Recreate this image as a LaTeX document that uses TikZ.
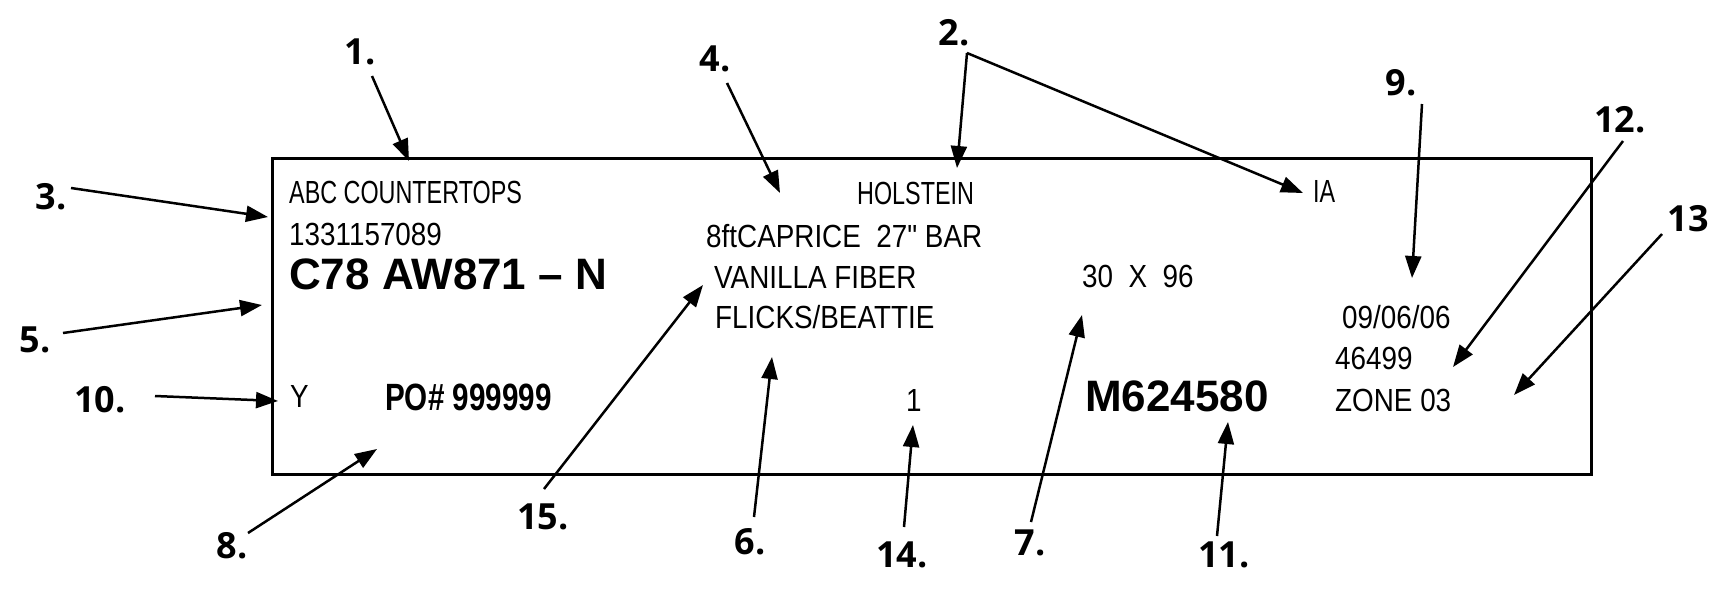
\documentclass[tikz,border=0pt]{standalone}
\usepackage{fontspec}
\setmainfont{Liberation Sans}
\newfontfamily\fieldfont[FakeStretch=0.87]{Liberation Sans}
\newfontfamily\narrowfont[FakeStretch=0.73]{Liberation Sans}
\newfontfamily\pofont[FakeStretch=0.78]{Liberation Sans}
\newfontfamily\calloutfont{Open Sans}
\usepackage{tikz}
\usetikzlibrary{positioning, arrows.meta}

\begin{document}
\begin{tikzpicture}[
        x=1pt, y=-1pt,
        field/.style={
            anchor=base west,
            inner sep=0pt,
            font=\fieldfont\fontsize{32}{36}\selectfont
        },
        narrowfield/.style={
            field,
            font=\narrowfont\fontsize{32}{36}\selectfont
        },
        boldfield/.style={
            field,
            font=\bfseries\fontsize{44}{48}\selectfont
        },
        callout/.style={
            inner sep=0pt,
            font=\calloutfont\bfseries\fontsize{36}{40}\selectfont
        },
        pointer/.style={
            -{Triangle[length=22pt, width=16pt]},
            line width=2.5pt,
            line join=miter
        }
    ]
    \useasboundingbox (0,0) rectangle (1730,592);

    % Ticket outline
    \node[draw, line width=3pt, anchor=north west, inner sep=0pt,
          minimum width=1319pt, minimum height=316pt] (ticket) at (271,157) {};

    % Ticket fields
    \node[narrowfield] (customer) at (289,203) {ABC COUNTERTOPS};
    \node[field] (phone) at (289,245) {1331157089};
    \node[boldfield] (colour) at (289,289) {C78 AW871 – N};
    \node[field] (flag) at (290,407) {Y};
    \node[field, font=\pofont\bfseries\fontsize{38}{42}\selectfont] (po) at (385,410) {PO\# 999999};
    \node[narrowfield] (city) at (857,204) {HOLSTEIN};
    \node[field] (model) at (706,247) {8ftCAPRICE\ \ 27" BAR};
    \node[field] (finish) at (714,288) {VANILLA FIBER};
    \node[field] (names) at (715,328) {FLICKS/BEATTIE};
    \node[field] (size) at (1082,287) {30\ \ X\ \ 96};
    \node[field] (qty) at (906,411) {1};
    \node[boldfield] (order) at (1085,411) {M624580};
    \node[narrowfield] (state) at (1313,202) {IA};
    \node[field] (date) at (1342,328) {09/06/06};
    \node[field] (zip) at (1335,369) {46499};
    \node[field] (zone) at (1335,411) {ZONE 03};

    % Callout numbers
    \node[callout] (c1) at (360,52) {1.};
    \node[callout] (c2) at (954,33) {2.};
    \node[callout] (c3) at (51,197) {3.};
    \node[callout] (c4) at (715,59) {4.};
    \node[callout] (c5) at (35,340) {5.};
    \node[callout] (c6) at (750,542) {6.};
    \node[callout] (c7) at (1030,543) {7.};
    \node[callout] (c8) at (232,546) {8.};
    \node[callout] (c9) at (1401,83) {9.};
    \node[callout] (c10) at (100,400) {10.};
    \node[callout] (c11) at (1224,555) {11.};
    \node[callout] (c12) at (1620,120) {12.};
    \node[callout] (c13) at (1688,219) {13};
    \node[callout] (c14) at (902,555) {14.};
    \node[callout] (c15) at (543,517) {15.};

    % Arrow tails
    \coordinate (s1) at (372,76);
    \coordinate (s2) at (967,53);
    \coordinate (s3) at (71,188);
    \coordinate (s4) at (727,83);
    \coordinate (s5) at (63,333);
    \coordinate (s6) at (754,517);
    \coordinate (s7) at (1031,522);
    \coordinate (s8) at (248,533);
    \coordinate (s9) at (1422,104);
    \coordinate (s10) at (155,396);
    \coordinate (s11) at (1217,536);
    \coordinate (s12) at (1623,141);
    \coordinate (s13) at (1662,234);
    \coordinate (s14) at (904,527);
    \coordinate (s15) at (544,489);

    % Arrow tips
    \coordinate (e1) at (409,161);
    \coordinate (e2a) at (957,168);
    \coordinate (e2b) at (1303,193);
    \coordinate (e3) at (268,217);
    \coordinate (e4) at (780,193);
    \coordinate (e5) at (262,305);
    \coordinate (e6) at (772,357);
    \coordinate (e7) at (1082,315);
    \coordinate (e8) at (377,449);
    \coordinate (e9) at (1412,278);
    \coordinate (e10) at (278,401);
    \coordinate (e11) at (1228,422);
    \coordinate (e12) at (1453,367);
    \coordinate (e13) at (1514,395);
    \coordinate (e14) at (913,425);
    \coordinate (e15) at (703,285);

    % Pointers
    \draw[pointer] (s1) -- (e1);
    \draw[pointer] (s2) -- (e2a);
    \draw[pointer] (s2) -- (e2b);
    \draw[pointer] (s3) -- (e3);
    \draw[pointer] (s4) -- (e4);
    \draw[pointer] (s5) -- (e5);
    \draw[pointer] (s6) -- (e6);
    \draw[pointer] (s7) -- (e7);
    \draw[pointer] (s8) -- (e8);
    \draw[pointer] (s9) -- (e9);
    \draw[pointer] (s10) -- (e10);
    \draw[pointer] (s11) -- (e11);
    \draw[pointer] (s12) -- (e12);
    \draw[pointer] (s13) -- (e13);
    \draw[pointer] (s14) -- (e14);
    \draw[pointer] (s15) -- (e15);

\end{tikzpicture}
\end{document}
